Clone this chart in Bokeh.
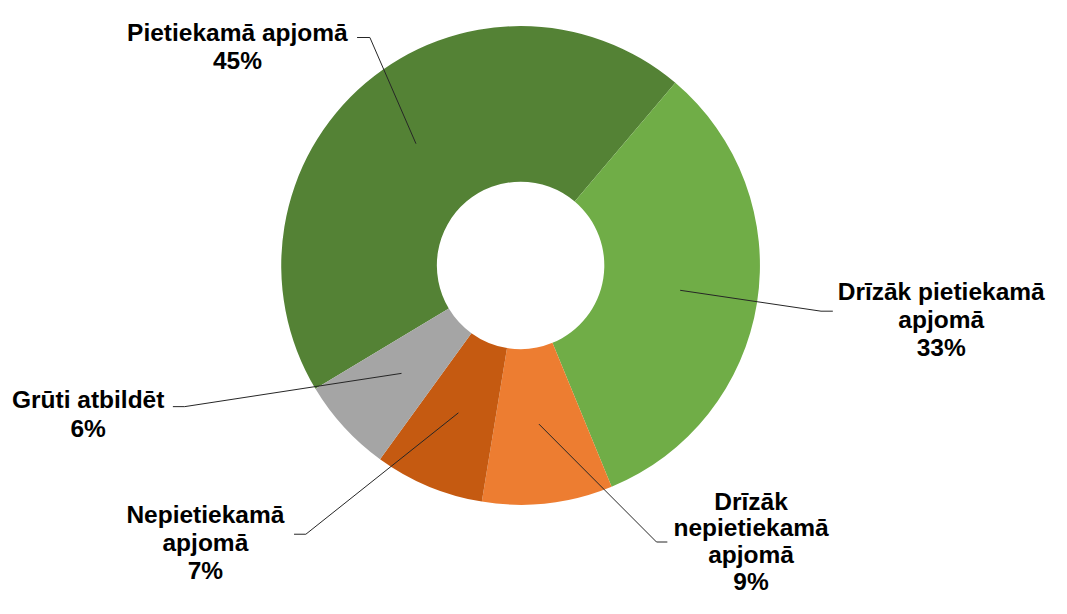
import math
from bokeh.plotting import figure
from bokeh.models import Range1d, ColumnDataSource
from bokeh.core.properties import value
from bokeh.embed import file_html
from bokeh.resources import INLINE

# ---- data ----
categories = ["Pietiekamā apjomā", "Drīzāk pietiekamā apjomā", "Drīzāk nepietiekamā apjomā",
              "Nepietiekamā apjomā", "Grūti atbildēt"]
label_lines = [["Pietiekamā apjomā"], ["Drīzāk pietiekamā", "apjomā"],
               ["Drīzāk", "nepietiekamā", "apjomā"], ["Nepietiekamā", "apjomā"], ["Grūti atbildēt"]]
shares = [44.8, 32.6, 8.8, 7.4, 6.4]
colors = ["#548235", "#70AD47", "#ED7D31", "#C55A11", "#A5A5A5"]

# ---- layout (reference pixel coordinates, 1067 x 614 canvas) ----
W, H = 1051, 598
REF_W, REF_H = 1067, 614
CX, CY = 528, 272
R_OUT, R_IN = 243, 85
FIRST_ANGLE = 239.0  # degrees clockwise from 12 o'clock
label_cx = [240.5, 955, 762, 208, 89]
label_base = [33, 299, 514, 528, 410]
line_step = [29, 28.5, 27.5, 28.5, 29]
elbow = [(375, 38), (833, 319), (666, 556), (310, 548), (187, 417)]
tail = [(362, 38), (845, 319), (677, 556), (298, 548), (175, 417)]


def Y(ry):
    return REF_H - ry


p = figure(width=W, height=H, x_range=Range1d(0, REF_W), y_range=Range1d(0, REF_H),
           output_backend="svg", toolbar_location=None, min_border=0)
p.axis.visible = False
p.grid.visible = False
p.outline_line_color = None
p.background_fill_color = "white"
p.border_fill_color = "white"

total = sum(shares)
starts, ends, mids = [], [], []
acc = FIRST_ANGLE
for s in shares:
    a = acc
    b = acc + 360.0 * s / total
    acc = b
    starts.append(math.radians(90 - b))
    ends.append(math.radians(90 - a))
    mids.append((a + b) / 2)

src = ColumnDataSource(dict(x=[CX] * 5, y=[Y(CY)] * 5, start=starts, end=ends, color=colors))
p.annular_wedge(x="x", y="y", inner_radius=R_IN, outer_radius=R_OUT, start_angle="start",
                end_angle="end", direction="anticlock", fill_color="color", line_color=None, source=src)

# leader lines
r_mid = (R_IN + R_OUT) / 2
xs, ys = [], []
for i, m in enumerate(mids):
    sx = CX + r_mid * math.sin(math.radians(m))
    sy = CY - r_mid * math.cos(math.radians(m))
    xs.append([sx, elbow[i][0], tail[i][0]])
    ys.append([Y(sy), Y(elbow[i][1]), Y(tail[i][1])])
p.multi_line(xs=xs, ys=ys, line_color="#262626", line_width=1)

# labels
tx, ty, tt = [], [], []
for i, lines in enumerate(label_lines):
    all_lines = lines + [f"{round(shares[i] / total * 100)}%"]
    for j, t in enumerate(all_lines):
        tx.append(label_cx[i])
        ty.append(Y(label_base[i] + j * line_step[i]))
        tt.append(t)
p.text(x=tx, y=ty, text=tt, text_font=value("Liberation Sans"), text_font_style="bold",
       text_font_size="24.5px", text_align="center", text_baseline="alphabetic", text_color="#000000")

open("out.html", "w").write(file_html(p, INLINE))
